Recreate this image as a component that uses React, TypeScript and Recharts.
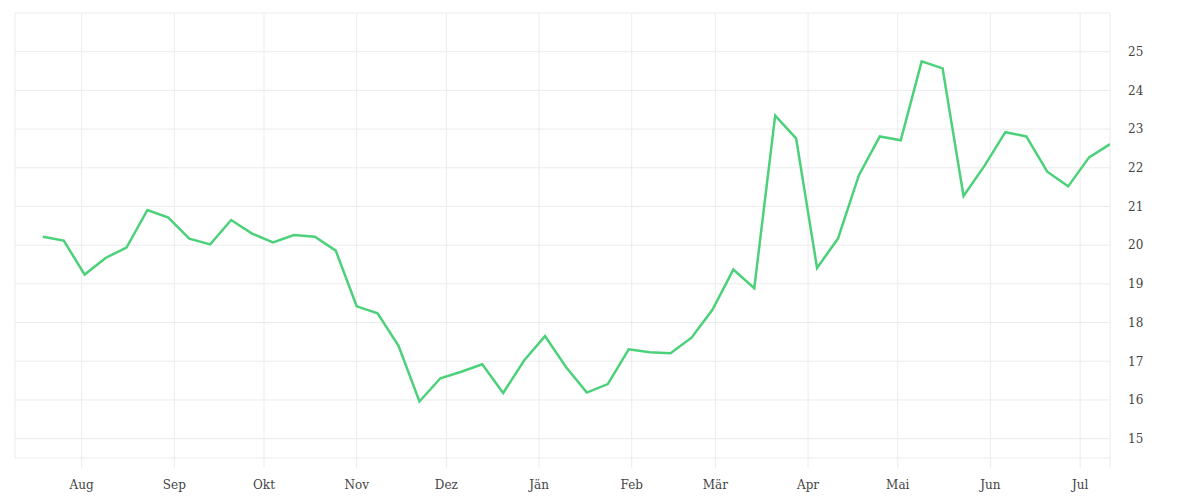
import React from 'react';
import { LineChart, Line, XAxis, YAxis, CartesianGrid } from 'recharts';

const weekDates: string[] = [
  '2022-07-19', '2022-07-26', '2022-08-02', '2022-08-09', '2022-08-16', '2022-08-23', '2022-08-30',
  '2022-09-06', '2022-09-13', '2022-09-20', '2022-09-27', '2022-10-04', '2022-10-11', '2022-10-18',
  '2022-10-25', '2022-11-01', '2022-11-08', '2022-11-15', '2022-11-22', '2022-11-29', '2022-12-06',
  '2022-12-13', '2022-12-20', '2022-12-27', '2023-01-03', '2023-01-10', '2023-01-17', '2023-01-24',
  '2023-01-31', '2023-02-07', '2023-02-14', '2023-02-21', '2023-02-28', '2023-03-07', '2023-03-14',
  '2023-03-21', '2023-03-28', '2023-04-04', '2023-04-11', '2023-04-18', '2023-04-25', '2023-05-02',
  '2023-05-09', '2023-05-16', '2023-05-23', '2023-05-30', '2023-06-06', '2023-06-13', '2023-06-20',
  '2023-06-27', '2023-07-04', '2023-07-11',
];

const values: number[] = [
  20.22, 20.12, 19.24, 19.67, 19.94, 20.91, 20.71, 20.17, 20.02, 20.65,
  20.3, 20.07, 20.26, 20.22, 19.86, 18.42, 18.24, 17.4, 15.96, 16.56,
  16.73, 16.92, 16.18, 17.02, 17.65, 16.85, 16.19, 16.41, 17.31, 17.23,
  17.21, 17.61, 18.33, 19.37, 18.89, 23.35, 22.76, 19.41, 20.17, 21.81,
  22.81, 22.71, 24.75, 24.57, 21.27, 22.05, 22.92, 22.81, 21.9, 21.52,
  22.27, 22.61,
];

const monthTickDates: string[] = [
  '2022-08-01', '2022-09-01', '2022-10-01', '2022-11-01', '2022-12-01', '2023-01-01',
  '2023-02-01', '2023-03-01', '2023-04-01', '2023-05-01', '2023-06-01', '2023-07-01',
];
const monthLabels: string[] = ['Aug', 'Sep', 'Okt', 'Nov', 'Dez', 'Jän', 'Feb', 'Mär', 'Apr', 'Mai', 'Jun', 'Jul'];

const yTicks: number[] = [14.5, 15, 16, 17, 18, 19, 20, 21, 22, 23, 24, 25, 26];
const yLabelled: number[] = [15, 16, 17, 18, 19, 20, 21, 22, 23, 24, 25];

const DAY = 86400000;
const ts = (s: string) => Date.parse(s + 'T00:00:00Z');

const data = weekDates.map((d, i) => ({ t: ts(d), v: values[i] }));
const xMin = ts(weekDates[0]) - 9.3 * DAY;
const xMax = ts(weekDates[weekDates.length - 1]);
const xTicks = [...monthTickDates.map(ts), xMax];

const tickStyle = { fontFamily: 'DejaVu Serif', fontSize: 12, fill: '#444' };

export default function App() {
  return (
    <div style={{ width: 1184, height: 484 }}>
      <LineChart width={1184} height={484} data={data} margin={{ top: 5, right: 0, left: 7, bottom: 0 }}>
        <CartesianGrid stroke="#ebebeb" strokeWidth={1} />
        <XAxis
          dataKey="t"
          type="number"
          domain={[xMin, xMax]}
          ticks={xTicks}
          interval={0}
          allowDataOverflow
          height={34}
          axisLine={false}
          tickLine={{ stroke: '#ebebeb' }}
          tickSize={10}
          tickMargin={12}
          tick={tickStyle}
          tickFormatter={(t: number) => {
            const idx = monthTickDates.map(ts).indexOf(t);
            return idx >= 0 ? monthLabels[idx] : '';
          }}
        />
        <YAxis
          orientation="right"
          type="number"
          domain={[14.5, 26]}
          ticks={yTicks}
          interval={0}
          width={82}
          axisLine={false}
          tickLine={false}
          tickSize={6}
          tickMargin={12}
          tick={{ ...tickStyle, textAnchor: 'start' }}
          tickFormatter={(v: number) => (yLabelled.includes(v) ? String(v) : '')}
        />
        <Line
          type="linear"
          dataKey="v"
          stroke="#4cd17b"
          strokeWidth={2.5}
          dot={false}
          activeDot={false}
          isAnimationActive={false}
        />
      </LineChart>
    </div>
  );
}
